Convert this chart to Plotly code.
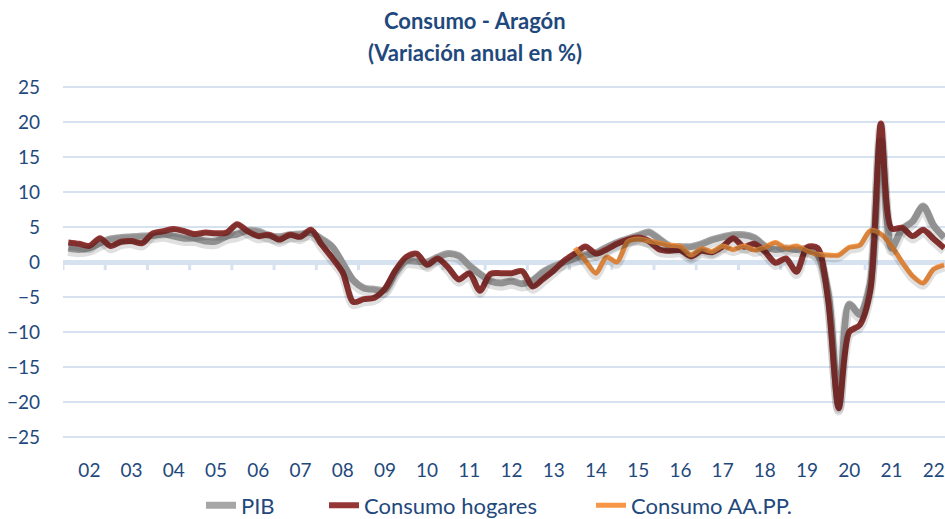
import plotly.graph_objects as go

# ---------------- data ----------------
years = ["02", "03", "04", "05", "06", "07", "08", "09", "10", "11",
         "12", "13", "14", "15", "16", "17", "18", "19", "20", "21", "22"]
quarters = [f"20{y} T{q}" for y in years for q in range(1, 5)]

pib = [2.0, 1.8, 2.0, 2.7, 3.3, 3.5, 3.6, 3.7, 3.8, 4.0, 3.7, 3.4,
       3.4, 3.0, 3.0, 3.7, 4.0, 4.5, 4.4, 3.8, 3.6, 3.9, 4.0, 4.2,
       3.3, 2.2, -0.2, -2.6, -3.7, -3.9, -4.0, -1.5, 0.2, 0.1, 0.0, 0.7,
       1.2, 0.9, -0.5, -1.7, -2.7, -3.0, -2.7, -3.1, -2.6, -1.4, -0.6, 0.0,
       0.5, 1.0, 1.3, 2.1, 2.8, 3.3, 3.8, 4.3, 3.3, 2.3, 2.2, 2.2,
       2.6, 3.2, 3.6, 3.9, 3.9, 3.5, 2.3, 1.8, 2.0, 1.8, 1.9, 1.0,
       -4.5, -20.5, -6.0, -7.5, -3.0, 17.5, 2.0, 4.7, 5.8, 8.0, 5.2, 3.5]

hogares = [2.8, 2.6, 2.3, 3.4, 2.3, 2.9, 3.0, 2.7, 4.1, 4.4, 4.7, 4.4,
           4.0, 4.2, 4.1, 4.2, 5.4, 4.4, 3.7, 3.9, 3.2, 3.9, 3.6, 4.6,
           2.5, 0.6, -1.5, -5.7, -5.3, -5.1, -3.8, -1.2, 0.7, 1.2, -0.4, 0.5,
           -0.8, -2.5, -1.6, -4.1, -1.7, -1.6, -1.6, -1.3, -3.5, -2.4, -1.2, 0.2,
           1.2, 2.2, 1.2, 1.8, 2.6, 3.2, 3.5, 3.0, 1.8, 1.6, 1.7, 0.8,
           1.6, 1.4, 2.2, 3.4, 2.2, 2.6, 1.5, -0.1, 0.5, -1.4, 2.1, 2.0,
           -5.5, -20.9, -10.0, -9.0, -4.0, 19.8, 4.8, 4.9, 3.7, 4.6, 3.3, 2.0]

aapp = [None] * 48 + [
    2.0, 0.2, -1.6, 0.7, 0.0, 2.9, 3.3, 3.0, 2.7, 2.4, 2.2, 1.0,
    1.9, 1.5, 2.3, 1.8, 2.3, 1.7, 2.1, 2.8, 2.0, 2.3, 1.6, 1.1,
    1.0, 1.0, 2.1, 2.4, 4.5, 4.0, 2.3, 0.0, -2.0, -3.0, -1.0, -0.4]

y_ticks = [-25, -20, -15, -10, -5, 0, 5, 10, 15, 20, 25]

# ---------------- style ----------------
FONT = "Lato, Carlito, Calibri, sans-serif"
BLUE_TXT = "#1F497D"
GRID = "#D6E2F0"
Y_RANGE = [-25.3, 25.3]
SHADOW_SHIFT = 0.4  # soft drop shadow, a few pixels below each line

series = [("PIB", pib, "#A6A6A6", 7, "legend"),
          ("Consumo hogares", hogares, "#953735", 6, "legend2"),
          ("Consumo AA.PP.", aapp, "#F79646", 5, "legend3")]

fig = go.Figure()
# shadows (drawn on an overlaying axis shifted slightly, same data)
for name, vals, color, w, lg in series:
    fig.add_trace(go.Scatter(x=quarters, y=vals, mode="lines", yaxis="y2",
                             showlegend=False, hoverinfo="skip",
                             line=dict(color="rgba(0,0,0,0.12)", width=w + 3,
                                       shape="spline", smoothing=0.8)))
for name, vals, color, w, lg in series:
    fig.add_trace(go.Scatter(x=quarters, y=vals, name=name, mode="lines", legend=lg,
                             line=dict(color=color, width=w, shape="spline", smoothing=0.8)))

# small tick marks hanging from the zero line at each year boundary
n = len(quarters)
for k in range(0, n + 1, 4):
    fig.add_shape(type="line", xref="x", yref="y", x0=k - 0.5, x1=k - 0.5,
                  y0=0, y1=-1.15, line=dict(color=GRID, width=3), layer="below")

label_pos = [quarters[4 * j + 2] for j in range(len(years))]


def leg(x_px):
    return dict(orientation="h", xref="container", yref="container",
                x=x_px / 945, xanchor="left", y=0.026, yanchor="middle",
                font=dict(size=22, color=BLUE_TXT, family=FONT),
                bgcolor="rgba(0,0,0,0)")


fig.update_layout(
    width=945, height=519,
    margin=dict(l=63, r=0, t=85, b=80),
    paper_bgcolor="white", plot_bgcolor="white",
    font=dict(family=FONT, color=BLUE_TXT, size=19),
    showlegend=True,
    legend=leg(201),
    legend2=leg(324),
    legend3=leg(591),
    xaxis=dict(type="category", range=[-0.5, 83.07], tickmode="array",
               tickvals=label_pos, ticktext=years, showgrid=False,
               showline=False, zeroline=False, ticks="outside", ticklen=14,
               tickcolor="rgba(0,0,0,0)", tickfont=dict(size=19, color=BLUE_TXT)),
    yaxis=dict(range=Y_RANGE, tickmode="array", tickvals=y_ticks,
               showgrid=True, gridcolor=GRID, gridwidth=2,
               zeroline=True, zerolinecolor=GRID, zerolinewidth=5,
               showline=False, ticks="", ticklabelstandoff=22,
               tickfont=dict(size=19, color=BLUE_TXT)),
    yaxis2=dict(overlaying="y", range=[Y_RANGE[0] + SHADOW_SHIFT, Y_RANGE[1] + SHADOW_SHIFT],
                visible=False, showgrid=False, zeroline=False),
    annotations=[
        dict(text="<b>Consumo - Aragón</b>", xref="paper", yref="paper",
             x=0.467, y=1.183, showarrow=False, yanchor="middle",
             font=dict(size=22, color=BLUE_TXT, family=FONT)),
        dict(text="<b>(Variación anual en %)</b>", xref="paper", yref="paper",
             x=0.467, y=1.093, showarrow=False, yanchor="middle",
             font=dict(size=22, color=BLUE_TXT, family=FONT)),
    ],
)

fig.write_html("out.html", config={"displayModeBar": False},
               post_script="document.body.style.margin='0px';document.body.style.overflow='hidden';")
